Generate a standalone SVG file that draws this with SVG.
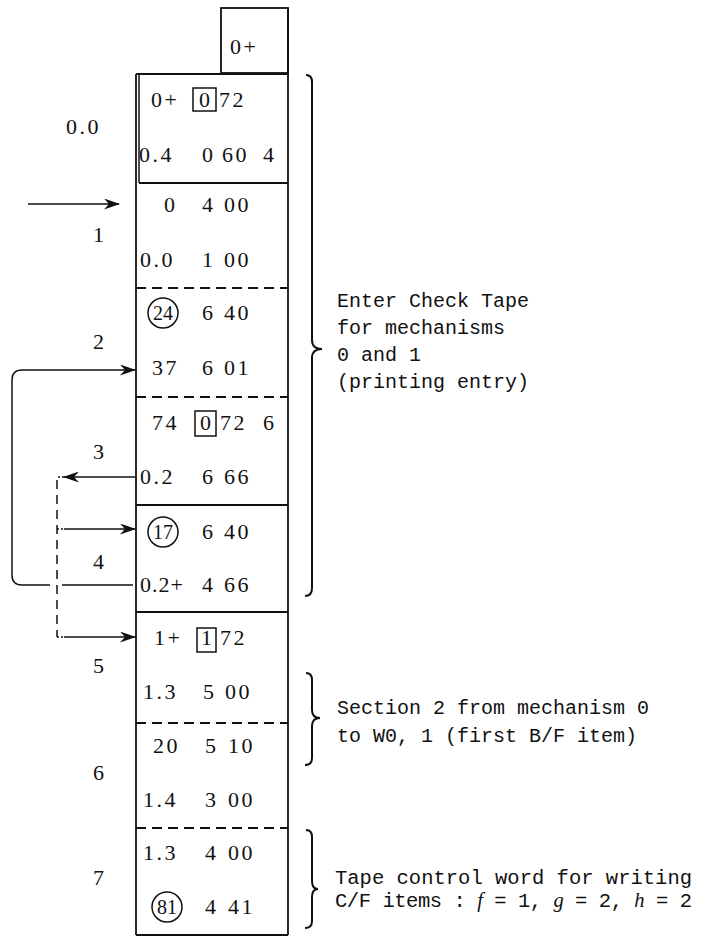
<svg xmlns="http://www.w3.org/2000/svg" width="720" height="938" viewBox="0 0 720 938">
<defs>
<style>
.c{font-family:"Liberation Serif",serif;font-size:22px;fill:#111;letter-spacing:2.5px}
.m{font-family:"Liberation Mono",monospace;font-size:20px;fill:#111}
.ln{stroke:#111;stroke-width:1.8;fill:none}
.th{stroke:#111;stroke-width:1.5;fill:none}
.ds{stroke:#111;stroke-width:1.8;fill:none;stroke-dasharray:10,6}
.cn{stroke:#111;stroke-width:1.5;fill:none}
.cd{stroke:#111;stroke-width:1.5;fill:none;stroke-dasharray:9,6}
.br{stroke:#111;stroke-width:2;fill:none}
.it{font-family:"Liberation Serif",serif;font-style:italic}
</style>
<marker id="ah" markerWidth="16" markerHeight="11" refX="15" refY="5.5" orient="auto" markerUnits="userSpaceOnUse">
<path d="M0,0 L16,5.5 L0,11 L5,5.5 Z" fill="#111"/>
</marker>
</defs>

<g id="column">
<rect x="221" y="8" width="67" height="65" class="ln"/>
<text x="230" y="54" class="c">0+</text>
<line x1="136" y1="74" x2="288" y2="74" class="ln"/>
<line x1="136" y1="74" x2="136" y2="935" class="ln"/>
<line x1="139" y1="74" x2="139" y2="183" class="th"/>
<line x1="288" y1="8" x2="288" y2="935" class="ln"/>
<line x1="139" y1="183" x2="288" y2="183" class="ln"/>
<line x1="136" y1="288" x2="288" y2="288" class="ds"/>
<line x1="136" y1="397" x2="288" y2="397" class="ds"/>
<line x1="136" y1="505" x2="288" y2="505" class="ln"/>
<line x1="136" y1="612" x2="288" y2="612" class="ln"/>
<line x1="136" y1="723" x2="288" y2="723" class="ds"/>
<line x1="136" y1="828" x2="288" y2="828" class="ds"/>
<line x1="136" y1="935" x2="288" y2="935" class="ln"/>
</g>

<g id="block-0.0">
<text x="66" y="134" class="c">0.0</text>
<text x="151" y="107" class="c">0+</text>
<rect x="193" y="88" width="23" height="23" class="th"/>
<text x="199" y="107" class="c">0</text>
<text x="219" y="107" class="c">72</text>
<text x="139" y="162" class="c">0.4</text>
<text x="202" y="162" class="c">0</text>
<text x="222" y="162" class="c">60</text>
<text x="263" y="162" class="c">4</text>
</g>

<g id="block-1">
<text x="93" y="242" class="c">1</text>
<text x="164" y="212" class="c">0</text>
<text x="202" y="212" class="c">4</text>
<text x="224" y="212" class="c">00</text>
<text x="140" y="267" class="c">0.0</text>
<text x="202" y="267" class="c">1</text>
<text x="224" y="267" class="c">00</text>
</g>

<g id="block-2">
<text x="93" y="349" class="c">2</text>
<circle cx="163" cy="313" r="15" class="th"/>
<text x="163" y="320" class="c" text-anchor="middle" style="letter-spacing:0;font-size:20px">24</text>
<text x="202" y="320" class="c">6</text>
<text x="224" y="320" class="c">40</text>
<text x="152" y="375" class="c">37</text>
<text x="202" y="375" class="c">6</text>
<text x="224" y="375" class="c">01</text>
</g>

<g id="block-3">
<text x="93" y="459" class="c">3</text>
<text x="152" y="430" class="c">74</text>
<rect x="195" y="411" width="21" height="25" class="th"/>
<text x="200" y="430" class="c">0</text>
<text x="220" y="430" class="c">72</text>
<text x="263" y="430" class="c">6</text>
<text x="140" y="484" class="c">0.2</text>
<text x="202" y="484" class="c">6</text>
<text x="224" y="484" class="c">66</text>
</g>

<g id="block-4">
<text x="93" y="569" class="c">4</text>
<circle cx="163" cy="532" r="15" class="th"/>
<text x="163" y="539" class="c" text-anchor="middle" style="letter-spacing:0;font-size:20px">17</text>
<text x="202" y="539" class="c">6</text>
<text x="224" y="539" class="c">40</text>
<text x="140" y="592" class="c" style="letter-spacing:1px">0.2+</text>
<text x="202" y="592" class="c">4</text>
<text x="224" y="592" class="c">66</text>
</g>

<g id="block-5">
<text x="93" y="673" class="c">5</text>
<text x="154" y="645" class="c">1+</text>
<rect x="197" y="628" width="19" height="24" class="th"/>
<text x="201" y="645" class="c">1</text>
<text x="220" y="645" class="c">72</text>
<text x="143" y="699" class="c">1.3</text>
<text x="203" y="699" class="c">5</text>
<text x="225" y="699" class="c">00</text>
</g>

<g id="block-6">
<text x="93" y="780" class="c">6</text>
<text x="153" y="753" class="c">20</text>
<text x="205" y="753" class="c">5</text>
<text x="228" y="753" class="c">10</text>
<text x="143" y="807" class="c">1.4</text>
<text x="205" y="807" class="c">3</text>
<text x="228" y="807" class="c">00</text>
</g>

<g id="block-7">
<text x="93" y="885" class="c">7</text>
<text x="143" y="860" class="c">1.3</text>
<text x="205" y="860" class="c">4</text>
<text x="228" y="860" class="c">00</text>
<circle cx="167" cy="907" r="15" class="th"/>
<text x="167" y="914" class="c" text-anchor="middle" style="letter-spacing:0;font-size:20px">81</text>
<text x="205" y="914" class="c">4</text>
<text x="228" y="914" class="c">41</text>
</g>

<g id="connectors">
<line x1="28" y1="204" x2="119" y2="204" class="cn" marker-end="url(#ah)"/>
<path d="M133,585 H62 M50,585 H22 Q12,585 12,575 V380 Q12,370 22,370 H135" class="cn" marker-end="url(#ah)"/>
<line x1="135" y1="477" x2="64" y2="477" class="cn" marker-end="url(#ah)"/>
<line x1="64" y1="477" x2="57" y2="477" class="cd" style="stroke-dasharray:2,2"/>
<line x1="57" y1="480" x2="57" y2="637" class="cd"/>
<path d="M57,529 H64" class="cd" style="stroke-dasharray:2,2"/>
<line x1="64" y1="529" x2="135" y2="529" class="cn" marker-end="url(#ah)"/>
<path d="M57,637 H64" class="cd" style="stroke-dasharray:2,2"/>
<line x1="64" y1="637" x2="135" y2="637" class="cn" marker-end="url(#ah)"/>
</g>

<g id="note-check-tape">
<path d="M306,75 Q312,75 312,82 V340 Q312,349 322,349 Q312,349 312,358 V588 Q312,596 305,596" class="br"/>
<text x="337" y="307" class="m">Enter Check Tape</text>
<text x="337" y="334" class="m">for mechanisms</text>
<text x="337" y="361" class="m">0 and 1</text>
<text x="337" y="388" class="m">(printing entry)</text>
</g>

<g id="note-section2">
<path d="M306,673 Q312,673 312,680 V710 Q312,718 320,718 Q312,718 312,726 V758 Q312,765 305,765" class="br"/>
<text x="337" y="714" class="m">Section 2 from mechanism 0</text>
<text x="337" y="742" class="m">to W0, 1 (first B/F item)</text>
</g>

<g id="note-tape-control">
<path d="M306,830 Q312,830 312,837 V881 Q312,889 318,889 Q312,889 312,897 V921 Q312,928 305,928" class="br"/>
<text x="335" y="884" class="m" style="font-size:20.5px" textLength="357" lengthAdjust="spacing">Tape control word for writing</text>
<text x="335" y="907" class="m" style="font-size:20.5px" textLength="357" lengthAdjust="spacing">C/F items : <tspan class="it">f</tspan> = 1, <tspan class="it">g</tspan> = 2, <tspan class="it">h</tspan> = 2</text>
</g>
</svg>
